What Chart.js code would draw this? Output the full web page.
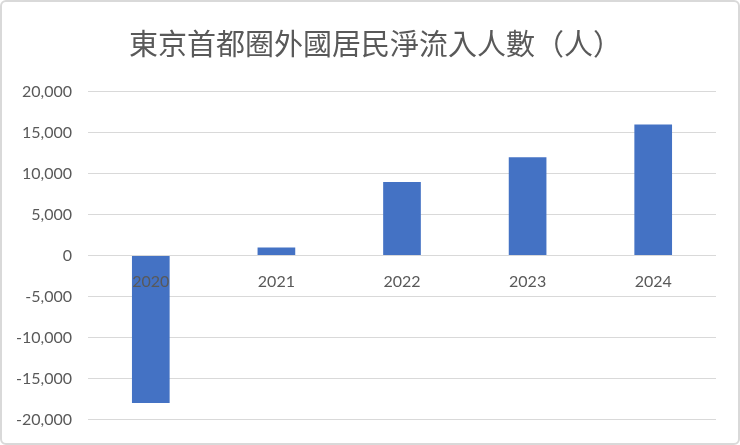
<!DOCTYPE html>
<html>
  <head>
    <meta charset="utf-8">
    <title>東京首都圈外國居民淨流入人數</title>
    <script src="https://cdn.jsdelivr.net/npm/chart.js"></script>
    <style>
      body { margin: 0; background: #ffffff; }
      #wrap { position: relative; width: 740px; height: 445px; }
      #frame {
        position: absolute; left: 0; top: 0; width: 740px; height: 445px;
        box-sizing: border-box; border: 2px solid #d9d9d9; border-radius: 6px;
        pointer-events: none;
      }
    </style>
  </head>
  <body>
    <div id="wrap">
      <canvas id="bar-chart" width="740" height="445"></canvas>
      <div id="frame"></div>
    </div>
    <script>
      // data
      const years = ["2020", "2021", "2022", "2023", "2024"];
      const netInflow = [-18000, 1000, 9000, 12000, 16000];
      const yTicks = [-20000, -15000, -10000, -5000, 0, 5000, 10000, 15000, 20000];

      const grey = "#595959";
      const tickFont = { family: "Lato", size: 16 };

      const ctx = document.getElementById("bar-chart").getContext("2d");
      new Chart(ctx, {
        type: "bar",
        data: {
          labels: years,
          datasets: [{
            data: netInflow,
            backgroundColor: "#4472c4",
            barPercentage: 0.3,
            categoryPercentage: 1.0
          }]
        },
        options: {
          responsive: false,
          animation: false,
          // small left padding nudges the centred title right, like the original
          layout: { padding: { left: 11, right: 0, bottom: 20 } },
          plugins: {
            legend: { display: false },
            tooltip: { enabled: false },
            title: {
              display: true,
              text: "東京首都圈外國居民淨流入人數（人）",
              color: grey,
              font: { family: "Noto Sans CJK TC", size: 29, weight: "normal" },
              padding: { top: 27, bottom: 30 }
            }
          },
          scales: {
            x: {
              // labels sit on the zero line and over the bars
              position: { y: 0 },
              grid: { display: false },
              border: { display: false },
              ticks: { z: 1, color: grey, font: tickFont, padding: 9, maxRotation: 0 }
            },
            y: {
              min: yTicks[0],
              max: yTicks[yTicks.length - 1],
              afterFit: function(scale) { scale.width = 77; },
              afterBuildTicks: function(scale) {
                scale.ticks = yTicks.map(v => ({ value: v }));
              },
              grid: { color: "#d9d9d9", lineWidth: 1, drawTicks: false },
              border: { display: false },
              ticks: {
                color: grey,
                font: tickFont,
                padding: 16,
                callback: v => v.toLocaleString("en-US")
              }
            },
            // empty right axis, only keeps a margin at the right edge
            yRight: {
              position: "right",
              min: yTicks[0],
              max: yTicks[yTicks.length - 1],
              afterFit: function(scale) { scale.width = 24; },
              grid: { display: false },
              border: { display: false },
              ticks: { display: false }
            }
          }
        }
      });
    </script>
  </body>
</html>
